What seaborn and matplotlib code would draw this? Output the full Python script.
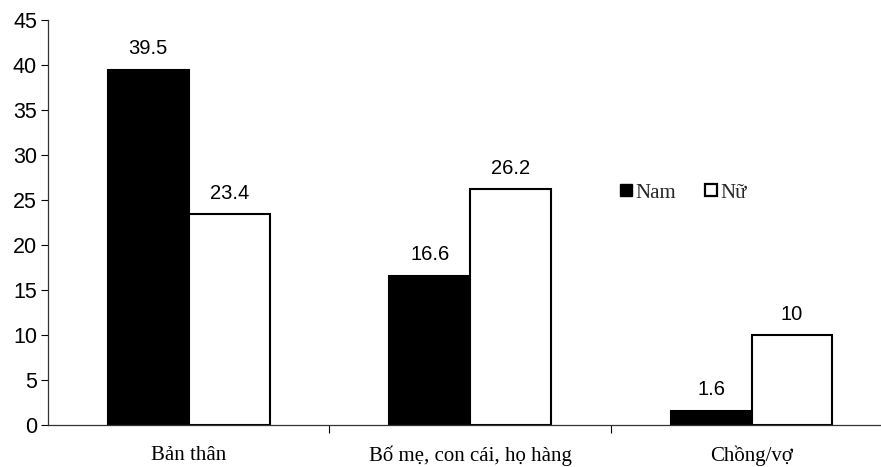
import matplotlib
matplotlib.use("Agg")
import matplotlib.pyplot as plt
from matplotlib.ticker import FixedLocator
import seaborn as sns
import pandas as pd

categories = ["Bản thân", "Bố mẹ, con cái, họ hàng", "Chồng/vợ"]
nam = [39.5, 16.6, 1.6]
nu = [23.4, 26.2, 10]
series = ["Nam", "Nữ"]
y_ticks = [0, 5, 10, 15, 20, 25, 30, 35, 40, 45]

df = pd.DataFrame({
    "cat": categories * 2,
    "val": nam + nu,
    "sex": [series[0]] * 3 + [series[1]] * 3,
})

sns.set_theme(style="white")
plt.rcParams["font.family"] = ["Liberation Sans", "DejaVu Sans"]

fig = plt.figure(figsize=(8.81, 4.67), dpi=100)
ax = fig.add_axes([48 / 881, 42 / 467, (881 - 48) / 881, 405 / 467])

sns.barplot(data=df, x="cat", y="val", hue="sex", order=categories,
            hue_order=series, palette=["black", "white"], width=0.575,
            edgecolor="black", linewidth=1.5, saturation=1, ax=ax,
            legend=False)

for cont in ax.containers:
    ax.bar_label(cont, labels=[f"{v:g}" for v in cont.datavalues],
                 padding=8, fontsize=14.5, color="black")

ax.set_ylim(0, 45)
ax.set_xlim(-0.5, 2.46)
ax.set_yticks(y_ticks)
ax.tick_params(axis="y", which="major", left=True, length=5, width=0.8,
               labelsize=15.5, pad=3, colors="black")
ax.tick_params(axis="x", which="major", length=0, pad=15)
ax.xaxis.set_minor_locator(FixedLocator([0.5, 1.5]))
ax.tick_params(axis="x", which="minor", bottom=True, length=6, width=0.8,
               color="black")
for lbl in ax.get_xticklabels():
    lbl.set_fontfamily(["Liberation Serif", "DejaVu Serif"])
    lbl.set_fontsize(15)
    lbl.set_color("black")
ax.set_xlabel("")
ax.set_ylabel("")

sns.despine(ax=ax)
for side in ("left", "bottom"):
    ax.spines[side].set_color("#333333")
    ax.spines[side].set_linewidth(0.9)

handles = [
    plt.Line2D([], [], marker="s", linestyle="none", markersize=9,
               markerfacecolor="black", markeredgecolor="black"),
    plt.Line2D([], [], marker="s", linestyle="none", markersize=8,
               markerfacecolor="white", markeredgecolor="black",
               markeredgewidth=1.6),
]
ax.legend(handles, series, ncol=2, frameon=False,
          loc="center left", bbox_to_anchor=((602 - 48) / 833, 0.573),
          handletextpad=0.0, columnspacing=1.25, handlelength=0.9,
          borderpad=0.2,
          prop={"family": ["Liberation Serif", "DejaVu Serif"], "size": 15})

fig.savefig("out.png", dpi=100)
